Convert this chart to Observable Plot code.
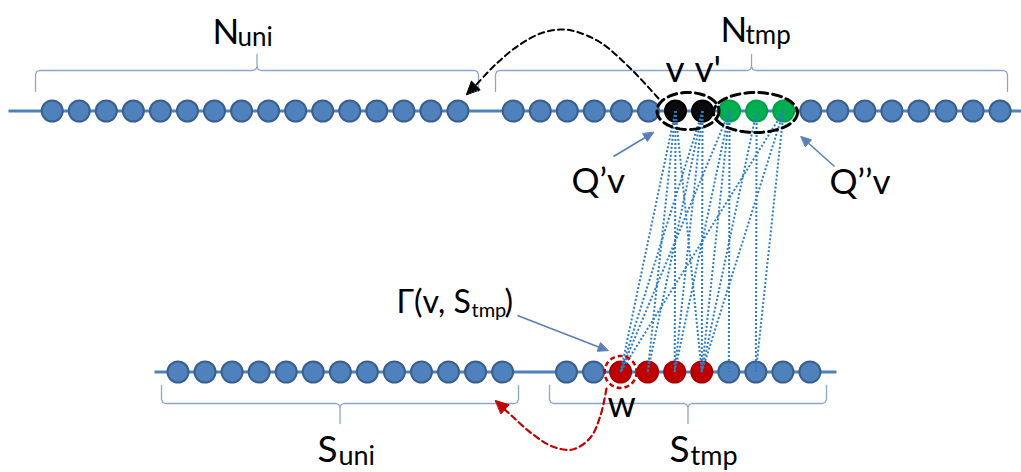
<!DOCTYPE html>
<html><head><meta charset="utf-8">
<script src="https://cdn.jsdelivr.net/npm/d3@7"></script>
<script src="https://cdn.jsdelivr.net/npm/@observablehq/plot@0.6"></script>
<style>html,body{margin:0;padding:0;background:#fff;} svg{display:block}</style>
</head><body><div id="chart"></div>
<script>
// ---- data ----
const nUniStates = ["plain","plain","plain","plain","plain","plain","plain","plain","plain","plain","plain","plain","plain","plain","plain","plain"];
const nTmpStates = ["plain","plain","plain","plain","plain","plain","black","black","green","green","green","plain","plain","plain","plain","plain","plain","plain","plain"];
const sUniStates = ["plain","plain","plain","plain","plain","plain","plain","plain","plain","plain","plain","plain","plain"];
const sTmpStates = ["plain","plain","red","red","red","red","plain","plain","plain","plain"];
// edges: [index in N_tmp, index in S_tmp]
const edges = [[6,2],[6,3],[6,4],[6,5],[7,2],[7,3],[7,4],[7,5],[8,2],[8,4],[8,5],[8,6],[9,5],[9,7],[10,2],[10,5],[10,7]];
const fills = {plain:"#4f81bd", black:"#0b0b0b", green:"#00b050", red:"#c00000"};
const strokes = {plain:"#3a5f8f", black:"#000000", green:"#00a04a", red:"#a80000"};

// ---- layout ----
const STEP = 27.05, TOP = 110.5, BOT = 371.5;
const rows = [
  {group:"N_uni", states:nUniStates, x0:51.7, y:TOP},
  {group:"N_tmp", states:nTmpStates, x0:512.7, y:TOP},
  {group:"S_uni", states:sUniStates, x0:177.5, y:BOT},
  {group:"S_tmp", states:sTmpStates, x0:566, y:BOT}
];
const nodes = rows.flatMap(r => r.states.map((s,i) => ({group:r.group, i, state:s, x:r.x0 + i*STEP, y:r.y})));
const node = (g,i) => nodes.find(n => n.group === g && n.i === i);
const links = edges.map(([a,b]) => { const p = node("N_tmp",a), q = node("S_tmp",b); return {x1:p.x, y1:p.y, x2:q.x, y2:q.y}; });
const rowLines = [{x1:8, x2:1021, y:TOP}, {x1:154, x2:836, y:BOT}];

function brace(id, x0, x1, y, s, ends, tip) {
  const xc = (x0 + x1) / 2, r = 4;
  return [
    [x0, y + s*ends], [x0, y + s*r], [x0 + r*0.3, y + s*r*0.3], [x0 + r, y],
    [xc - r, y], [xc - r*0.3, y - s*r*0.3], [xc, y - s*r], [xc, y - s*tip],
    [xc, y - s*r], [xc + r*0.3, y - s*r*0.3], [xc + r, y],
    [x1 - r, y], [x1 - r*0.3, y + s*r*0.3], [x1, y + s*r], [x1, y + s*ends]
  ].map(([x,y]) => ({id, x, y}));
}
const braces = [
  ...brace("b1", 35, 478, 70, 1, 21, 16),
  ...brace("b2", 495, 1007, 70, 1, 21, 16),
  ...brace("b3", 161, 518, 403, -1, 18, 20),
  ...brace("b4", 549, 826, 403, -1, 18, 20)
];
function ellipse(id, cx, cy, rx, ry) {
  return d3.range(72).map(k => { const t = k/72*2*Math.PI; return {id, x: cx + rx*Math.cos(t), y: cy + ry*Math.sin(t)}; });
}
const ellipses = [...ellipse("e1", 687.5, 110.5, 31, 18.5), ...ellipse("e2", 755, 112, 42, 20)];
const wNode = node("S_tmp", 2);

const blackCurve = [[658,98],[630,68],[600,42],[575,31],[560,29],[540,33],[518,45],[495,64],[476,84]].map(([x,y])=>({x,y}));
const redCurve = [[606,388],[600,415],[590,437],[572,449],[552,446],[530,432],[512,416],[501,406]].map(([x,y])=>({x,y}));

function head(id, tx, ty, fx, fy, len, hw) {
  const dx = tx - fx, dy = ty - fy, L = Math.hypot(dx, dy), ux = dx/L, uy = dy/L;
  const bx = tx - ux*len, by = ty - uy*len;
  return [{id, x:tx, y:ty}, {id, x:bx - uy*hw, y:by + ux*hw}, {id, x:bx + uy*hw, y:by - ux*hw}];
}
const thinArrows = [
  {x1:613, y1:156, x2:648, y2:135},
  {x1:834, y1:166, x2:805, y2:140},
  {x1:517, y1:315, x2:602, y2:348}
];
const thinHeads = thinArrows.flatMap((a,k) => head("t"+k, a.x2 + (a.x2-a.x1)/Math.hypot(a.x2-a.x1,a.y2-a.y1)*6, a.y2 + (a.y2-a.y1)/Math.hypot(a.x2-a.x1,a.y2-a.y1)*6, a.x1, a.y1, 10, 4.5));
const blackHead = head("bh", 466, 94, 480, 80, 13, 6);
const redHead = head("rh", 495, 400, 506, 410, 13, 6);

const FONT = "Lato, 'Open Sans', sans-serif";
const labels = [
  {t:"N", x:212, y:43, s:35}, {t:"uni", x:237, y:45, s:26},
  {t:"N", x:720, y:41, s:35}, {t:"tmp", x:745, y:43, s:26},
  {t:"v", x:665, y:81, s:37}, {t:"v'", x:694, y:81, s:37},
  {t:"Q\u2019v", x:571, y:192, s:35}, {t:"Q\u2019\u2019v", x:829, y:193, s:35},
  {t:"\u0393(v, S", x:396, y:312, s:32}, {t:"tmp", x:471, y:316, s:20}, {t:")", x:504, y:312, s:32},
  {t:"w", x:607, y:416, s:36},
  {t:"S", x:317, y:461, s:37}, {t:"uni", x:338, y:464, s:27},
  {t:"S", x:669, y:461, s:37}, {t:"tmp", x:690, y:464, s:27}
];

const plot = Plot.plot({
  width: 1021, height: 472, margin: 0,
  x: {domain:[0,1021], range:[0,1021], axis:null},
  y: {domain:[0,472], range:[0,472], axis:null},
  color: {type:"identity"},
  style: {background:"#fff", overflow:"visible"},
  marks: [
    Plot.link(rowLines, {x1:"x1", x2:"x2", y1:"y", y2:"y", stroke:"#4f81bd", strokeWidth:3}),
    Plot.line(braces, {x:"x", y:"y", z:"id", stroke:"#8aa6cf", strokeWidth:1.3}),
    Plot.dot(nodes, {x:"x", y:"y", r:10.5, fill:d => fills[d.state], stroke:d => strokes[d.state], strokeWidth:2}),
    Plot.link(links, {x1:"x1", y1:"y1", x2:"x2", y2:"y2", stroke:"#2e7dc0", strokeWidth:2, strokeDasharray:"2,2"}),
    Plot.line(ellipses, {x:"x", y:"y", z:"id", curve:"linear-closed", stroke:"#000", strokeWidth:3, strokeDasharray:"9,5"}),
    Plot.dot([wNode], {x:"x", y:"y", r:16, fill:"none", stroke:"#c00000", strokeWidth:2.5, strokeDasharray:"5,3"}),
    Plot.line(blackCurve, {x:"x", y:"y", curve:"catmull-rom", stroke:"#000", strokeWidth:2, strokeDasharray:"6,4"}),
    Plot.line(redCurve, {x:"x", y:"y", curve:"catmull-rom", stroke:"#c00000", strokeWidth:2.2, strokeDasharray:"6,4"}),
    Plot.line(blackHead, {x:"x", y:"y", z:"id", curve:"linear-closed", fill:"#000", stroke:"#000", strokeWidth:1}),
    Plot.line(redHead, {x:"x", y:"y", z:"id", curve:"linear-closed", fill:"#c00000", stroke:"#c00000", strokeWidth:1}),
    Plot.link(thinArrows, {x1:"x1", y1:"y1", x2:"x2", y2:"y2", stroke:"#5a7fb6", strokeWidth:1.6}),
    Plot.line(thinHeads, {x:"x", y:"y", z:"id", curve:"linear-closed", fill:"#5a7fb6", stroke:"#5a7fb6", strokeWidth:1}),
    Plot.text(labels, {x:"x", y:"y", text:"t", fontSize:d => d.s, textAnchor:"start", lineAnchor:"bottom", fill:"#000", fontFamily:FONT})
  ]
});
document.getElementById("chart").appendChild(plot);
</script></body></html>
